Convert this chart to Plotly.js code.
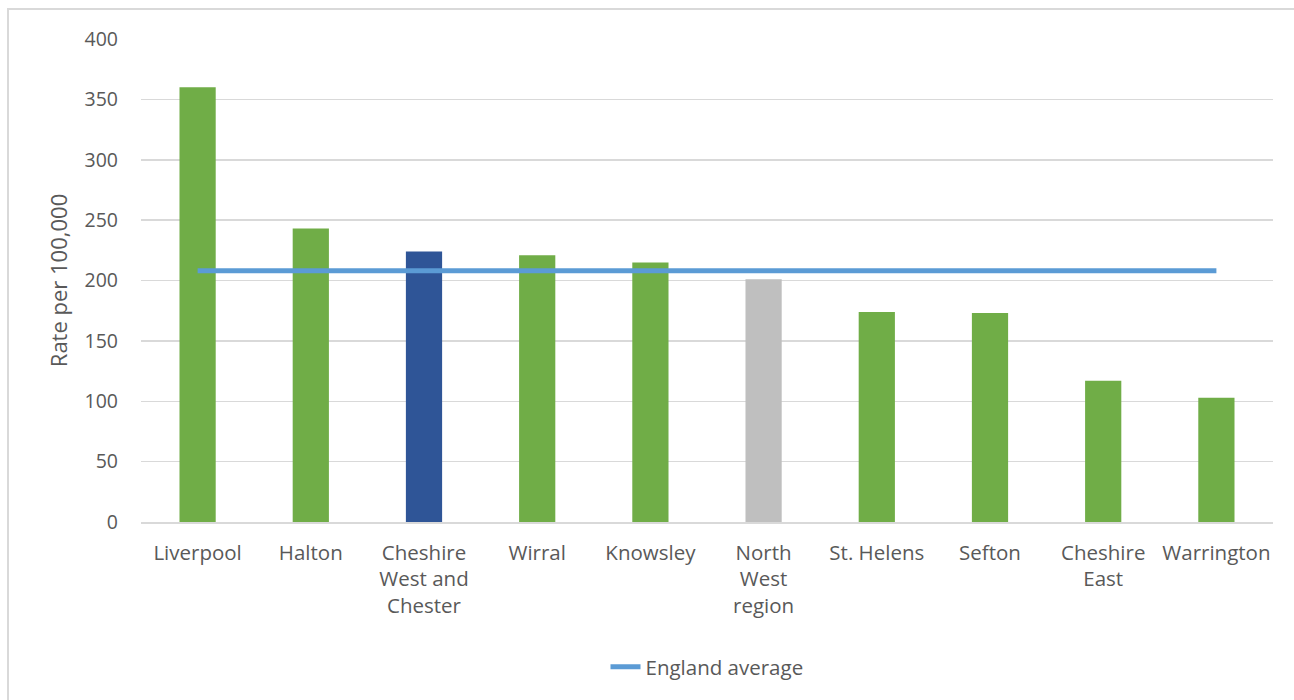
<!DOCTYPE html>
<html>
<head>
<meta charset="utf-8">
<script src="https://cdn.plot.ly/plotly-3.0.1.min.js"></script>
<style>
html,body{margin:0;padding:0;background:#fff;overflow:hidden;}
#frame{position:absolute;left:7px;top:8px;width:1300px;height:720px;border:2px solid #d9d9d9;box-sizing:border-box;}
#chart{position:absolute;left:0;top:0;width:1294px;height:700px;}
</style>
</head>
<body>
<div id="frame"></div>
<div id="chart"></div>
<script>
const categories = ["Liverpool","Halton","Cheshire<br>West and<br>Chester","Wirral","Knowsley","North<br>West<br>region","St. Helens","Sefton","Cheshire<br>East","Warrington"];
const rates = [360, 243, 224, 221, 215, 201, 174, 173, 117, 103];
const englandAverage = [208, 208, 208, 208, 208, 208, 208, 208, 208, 208];
const barColors = ["#70ad47","#70ad47","#2f5597","#70ad47","#70ad47","#bfbfbf","#70ad47","#70ad47","#70ad47","#70ad47"];

const fam = "Open Sans, Noto Sans, sans-serif";
const tickFont = {family: fam, color: "#595959", size: 20.5};
const yTickFont = {family: fam, color: "#595959", size: 19.5};
const titleFont = {family: fam, color: "#595959", size: 22};
const legendFont = {family: fam, color: "#595959", size: 20.5};

const traces = [
  {type: "bar", x: categories, y: rates, marker: {color: barColors}, showlegend: false, hoverinfo: "x+y"},
  {type: "scatter", mode: "lines", x: categories, y: englandAverage, name: "England average",
   line: {color: "#5b9bd5", width: 5}}
];

const layout = {
  width: 1294, height: 700,
  paper_bgcolor: "rgba(0,0,0,0)", plot_bgcolor: "#fff",
  margin: {l: 141, r: 21, t: 39, b: 178},
  font: tickFont,
  bargap: 0.68,
  xaxis: {type: "category", showgrid: false, showline: true, linecolor: "#d9d9d9", linewidth: 2,
          ticks: "", tickfont: tickFont, ticklabelstandoff: 11, automargin: false},
  yaxis: {range: [0, 400], dtick: 50, showgrid: true, gridcolor: "#d9d9d9", gridwidth: 1.5,
          zeroline: false, showline: false, ticks: "", tickfont: yTickFont, ticklabelstandoff: 22,
          automargin: false,
          title: {text: "Rate per 100,000", font: titleFont, standoff: 10}},
  legend: {orientation: "h", x: 0.5, xanchor: "center", y: -0.3, yanchor: "middle", font: legendFont},
  showlegend: true
};

Plotly.newPlot("chart", traces, layout, {displayModeBar: false, staticPlot: true});
</script>
</body>
</html>
